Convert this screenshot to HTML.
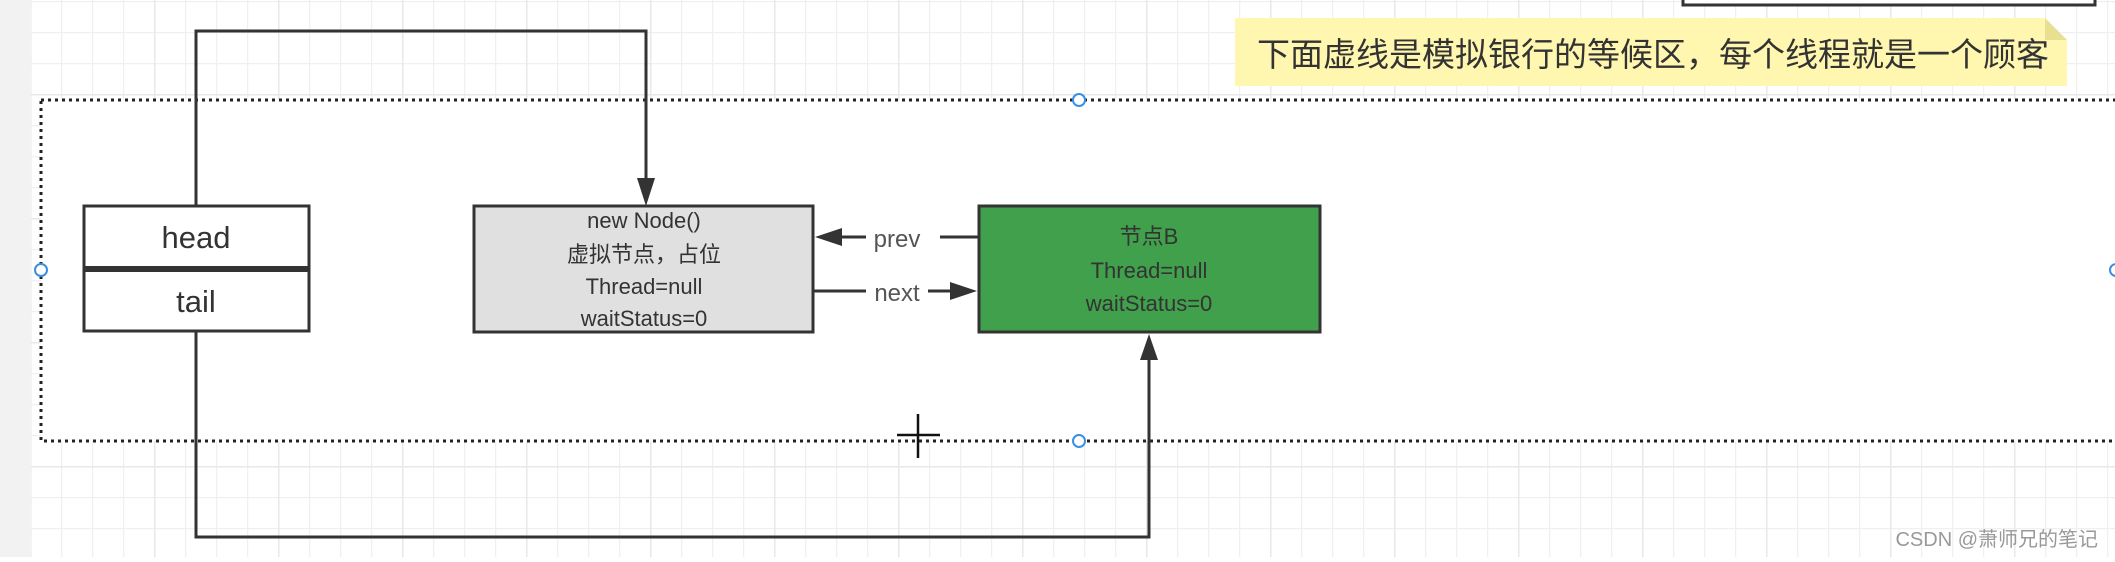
<!DOCTYPE html>
<html><head><meta charset="utf-8"><style>
body{margin:0;width:2115px;height:557px;overflow:hidden;background:#fff;font-family:"Liberation Sans","Noto Sans CJK SC",sans-serif;}
</style></head><body>
<svg width="2115" height="557" xmlns="http://www.w3.org/2000/svg">
<defs>
<pattern id="g" x="30" y="1" width="31" height="31" patternUnits="userSpaceOnUse"><path d="M0.5 0V31M0 0.5H31" stroke="#f0f0f0" stroke-width="1.5" fill="none"/></pattern>
<pattern id="G" x="30" y="94" width="124" height="124" patternUnits="userSpaceOnUse"><path d="M0.5 0V124M0 0.5H124" stroke="#e8e8e8" stroke-width="2" fill="none"/></pattern>
</defs>
<rect width="2115" height="557" fill="url(#g)"/>
<rect width="2115" height="557" fill="url(#G)"/>
<rect x="0" y="0" width="31" height="557" fill="#f2f2f2"/>
<rect x="1683" y="-10" width="412" height="15" fill="#fff" stroke="#333" stroke-width="3"/>
<rect x="41" y="100" width="2090" height="341" fill="#fff" stroke="#222" stroke-width="3" stroke-dasharray="3,4"/>
<polygon points="1235,18 2045,18 2067,40 2067,86 1235,86" fill="#fff7b0"/>
<polygon points="2045,18 2067,40 2045,40" fill="#e8df90"/>
<text x="1257" y="66" font-size="33" fill="#333" font-family="Liberation Sans,Noto Sans CJK SC,sans-serif">下面虚线是模拟银行的等候区，每个线程就是一个顾客</text>
<polyline points="196,206 196,31 646,31 646,185" fill="none" stroke="#333" stroke-width="3"/>
<polygon points="637,178 655,178 646,206" fill="#333"/>
<polyline points="196,331 196,537 1149,537 1149,355" fill="none" stroke="#333" stroke-width="3"/>
<polygon points="1140,360 1158,360 1149,334" fill="#333"/>
<rect x="84" y="206" width="225" height="125" fill="#fff" stroke="#333" stroke-width="3"/>
<rect x="84" y="266" width="225" height="6" fill="#333"/>
<text x="196" y="248" font-size="31" text-anchor="middle" fill="#333">head</text>
<text x="196" y="312" font-size="31" text-anchor="middle" fill="#333">tail</text>
<rect x="474" y="206" width="339" height="126" fill="#e0e0e0" stroke="#333" stroke-width="3"/>
<g font-size="22" text-anchor="middle" fill="#333">
<text x="644" y="228">new Node()</text>
<text x="644" y="262">虚拟节点，占位</text>
<text x="644" y="294">Thread=null</text>
<text x="644" y="326">waitStatus=0</text>
</g>
<rect x="979" y="206" width="341" height="126" fill="#41a04b" stroke="#333" stroke-width="3"/>
<g font-size="22" text-anchor="middle" fill="#333">
<text x="1149" y="244">节点B</text>
<text x="1149" y="278">Thread=null</text>
<text x="1149" y="311">waitStatus=0</text>
</g>
<line x1="979" y1="237" x2="940" y2="237" stroke="#333" stroke-width="3"/>
<line x1="866" y1="237" x2="835" y2="237" stroke="#333" stroke-width="3"/>
<polygon points="815,237 842,228 842,246" fill="#333"/>
<text x="897" y="247" font-size="24" text-anchor="middle" fill="#555">prev</text>
<line x1="813" y1="291" x2="866" y2="291" stroke="#333" stroke-width="3"/>
<line x1="928" y1="291" x2="955" y2="291" stroke="#333" stroke-width="3"/>
<polygon points="977,291 950,282 950,300" fill="#333"/>
<text x="897" y="301" font-size="24" text-anchor="middle" fill="#555">next</text>
<g fill="#fff" stroke="#3a8ee6" stroke-width="2">
<ellipse cx="1079" cy="100" rx="6" ry="6"/>
<ellipse cx="1079" cy="441" rx="6" ry="6"/>
<ellipse cx="41" cy="270" rx="6" ry="6"/>
<ellipse cx="2116" cy="270" rx="6" ry="6"/>
</g>
<line x1="918" y1="414" x2="918" y2="458" stroke="#111" stroke-width="2.5"/>
<line x1="897" y1="435" x2="940" y2="435" stroke="#111" stroke-width="2.5"/>
<text x="2098" y="546" font-size="20" text-anchor="end" fill="#999">CSDN @萧师兄的笔记</text>
</svg>
</body></html>
